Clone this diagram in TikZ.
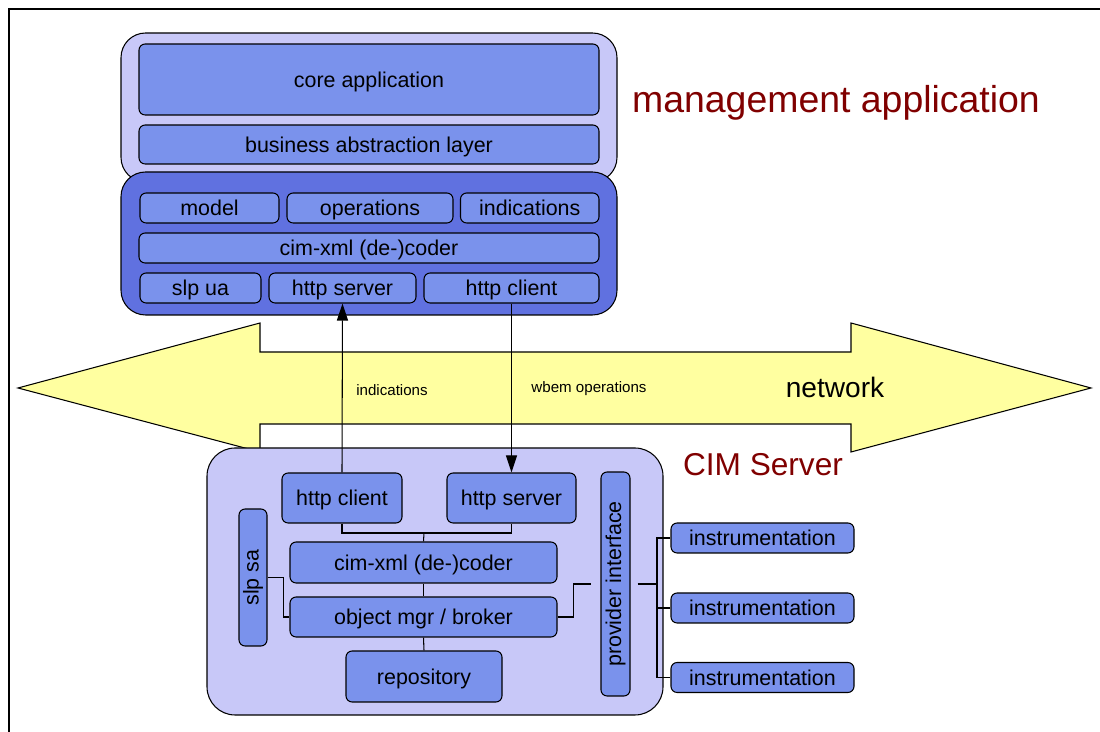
\documentclass[tikz,border=0pt]{standalone}
\usepackage{fontspec}
\setmainfont{Liberation Sans}
\usetikzlibrary{arrows.meta}

\definecolor{lav}{RGB}{200,200,248}
\definecolor{blu}{RGB}{122,146,236}
\definecolor{dblu}{RGB}{96,113,224}
\definecolor{netyellow}{RGB}{255,255,160}
\definecolor{darkred}{RGB}{128,0,0}

\begin{document}
\begin{tikzpicture}[x=0.02cm, y=-0.02cm, line width=0.6pt,
  every node/.style={font=\fontsize{12.2}{14}\selectfont, inner sep=0pt},
  >={Triangle[length=3.4mm, width=2.2mm]},
  sz/.style 2 args={minimum width=#1*0.02cm, minimum height=#2*0.02cm},
  blk/.style={draw, fill=blu, rounded corners=3.5pt, text height=8.8pt, text depth=0pt},
  rot/.style={text height=, text depth=},
  grp/.style={draw, rounded corners=14pt}]
	\useasboundingbox (0,0) rectangle (1100,732);
	\draw[line width=0.8pt] (9,732) -- (9,9) -- (1100,9);

	\node[grp, fill=lav, sz={496}{149}] (mapp) at (369,107.5) {};
	\node[grp, fill=dblu, sz={496}{143}] (mproto) at (369,243.5) {};
	\node[blk, sz={460}{71}] (core) at (369,79.5) {core application};
	\node[blk, sz={460}{39}] (bal) at (369,144.5) {business abstraction layer};
	\node[blk, sz={139}{30}] (model) at (209.5,208) {model};
	\node[blk, sz={166}{30}] (ops) at (370,208) {operations};
	\node[blk, sz={138.5}{30}] (ind) at (529.75,208) {indications};
	\node[blk, sz={460}{30}] (mcoder) at (369,248) {cim-xml (de-)coder};
	\node[blk, sz={121}{30}] (slpua) at (200.5,288) {slp ua};
	\node[blk, sz={147}{30}] (mserver) at (342.5,288) {http server};
	\node[blk, sz={175}{30}] (mclient) at (511.5,288) {http client};

	\draw[fill=netyellow] (18,388) -- (260,323) -- (260,352) -- (851,352) -- (851,323) -- (1091,388)
		-- (851,452) -- (851,424) -- (260,424) -- (260,452) -- cycle;

	\node[grp, fill=lav, rounded corners=16pt, sz={456}{267}] (cim) at (435,581.5) {};
	\node[blk, sz={120}{50}] (cclient) at (342,498) {http client};
	\node[blk, sz={129}{50}] (cserver) at (511.5,498) {http server};
	\node[blk, rot, sz={28}{137}] (slpsa) at (253,577.5) {\rotatebox{90}{slp sa}};
	\node[blk, sz={267}{41}] (ccoder) at (423.5,562.5) {cim-xml (de-)coder};
	\node[blk, sz={267}{40}] (broker) at (423.5,617) {object mgr / broker};
	\node[blk, sz={156}{51}] (repo) at (424,676.5) {repository};
	\node[blk, rot, sz={29}{224}] (provif) at (615.5,584) {\rotatebox{90}{provider interface}};
	\node[blk, sz={183}{30}] (inst1) at (762.5,538) {instrumentation};
	\node[blk, sz={183}{30}] (inst2) at (762.5,608) {instrumentation};
	\node[blk, sz={183}{30}] (inst3) at (762.5,677.5) {instrumentation};

	\coordinate (cbus) at (424,533);
	\coordinate (pbus) at (657,584);
	\draw (cclient.south) |- (cbus) -| (cserver.south);
	\draw (cbus) -- (ccoder.north);
	\draw (ccoder.south) -- (broker.north);
	\draw (broker.south) -- (repo.north);
	\draw (slpsa.east) -- ++(16,0) |- (broker.west);
	\draw[shorten >=0.18cm] (broker.east) -- ++(16,0) |- (provif.west);
	\draw[shorten <=0.14cm] (provif.east) -- (pbus);
	\foreach \i in {1,2,3}
		\draw (pbus) |- (inst\i.west);

	\draw[->] (cclient.north) -- (mserver.south);
	\draw[->] (mclient.south) -- (cserver.north);

	\node[font=\fontsize{21.3}{24}\selectfont, text=darkred] (mlabel) at (836,103) {management application};
	\node[font=\fontsize{18}{20}\selectfont, text=darkred] (clabel) at (763,465) {CIM Server};
	\node[font=\fontsize{16}{18}\selectfont] (netlabel) at (835,387) {network};
	\node[font=\fontsize{8.6}{10}\selectfont] (indlabel) at (392,390) {indications};
	\node[font=\fontsize{8.6}{10}\selectfont] (wbemlabel) at (589,389) {wbem operations};
\end{tikzpicture}
\end{document}
